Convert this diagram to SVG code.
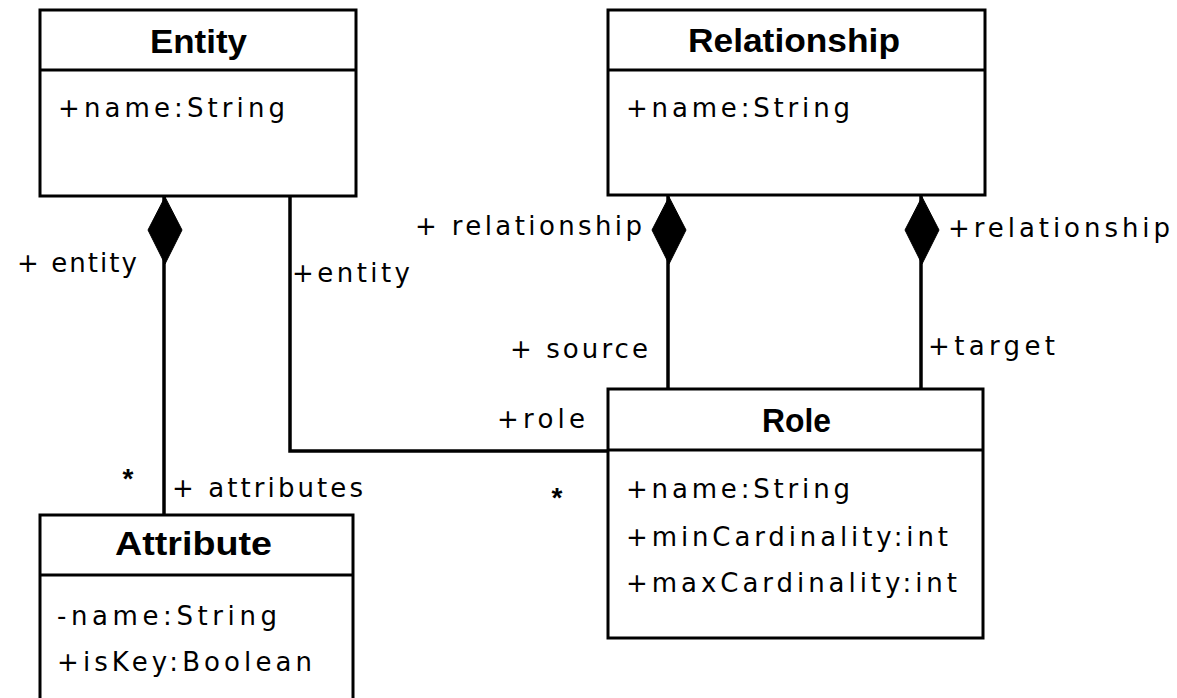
<svg xmlns="http://www.w3.org/2000/svg" width="1177" height="698" viewBox="0 0 1177 698">
  <style>
    .box { fill: #ffffff; stroke: #000000; stroke-width: 3; }
    .sep { stroke: #000000; stroke-width: 3; }
    .edge { fill: none; stroke: #000000; stroke-width: 3.5; }
    .diamond { fill: #000000; stroke: #000000; stroke-width: 1; }
    .title { font-family: "Liberation Sans", Arial, sans-serif; font-weight: bold; font-size: 33px; fill: #000000; }
    .attr { font-family: "DejaVu Sans", Verdana, sans-serif; font-size: 26px; fill: #000000; }
    .label { font-family: "DejaVu Sans", Verdana, sans-serif; font-size: 26px; fill: #000000; }
    .mult { font-family: "Liberation Sans", Arial, sans-serif; font-weight: bold; font-size: 28px; fill: #000000; }
  </style>
  <rect width="1177" height="698" fill="#ffffff"/>

  <!-- associations and compositions -->
  <g id="connectors">
    <!-- Entity composes Attribute -->
    <line class="edge" x1="164" y1="196" x2="164" y2="515"/>
    <polygon class="diamond" points="165,197 182,230 165,264 148,230"/>
    <!-- Entity to Role -->
    <polyline class="edge" points="290,196 290,451 608,451"/>
    <!-- Relationship composes Role (source) -->
    <line class="edge" x1="668" y1="195" x2="668" y2="389"/>
    <polygon class="diamond" points="669,197 686,230 669,264 652,230"/>
    <!-- Relationship composes Role (target) -->
    <line class="edge" x1="921" y1="195" x2="921" y2="389"/>
    <polygon class="diamond" points="922,197 939,230 922,264 905,230"/>

    <text class="label" x="17" y="272" textLength="120" lengthAdjust="spacing">+ entity</text>
    <text class="label" x="292" y="282" textLength="118" lengthAdjust="spacing">+entity</text>
    <text class="label" x="415" y="235" textLength="227" lengthAdjust="spacing">+ relationship</text>
    <text class="label" x="948" y="237" textLength="222" lengthAdjust="spacing">+relationship</text>
    <text class="label" x="510" y="358" textLength="138" lengthAdjust="spacing">+ source</text>
    <text class="label" x="928" y="355" textLength="127" lengthAdjust="spacing">+target</text>
    <text class="label" x="497" y="428" textLength="88" lengthAdjust="spacing">+role</text>
    <text class="label" x="172" y="497" textLength="191" lengthAdjust="spacing">+ attributes</text>
    <text class="mult" x="128" y="488" text-anchor="middle">*</text>
    <text class="mult" x="557" y="507" text-anchor="middle">*</text>
  </g>

  <g id="entity">
    <rect class="box" x="40" y="10" width="316" height="186"/>
    <line class="sep" x1="40" y1="70" x2="356" y2="70"/>
    <text class="title" x="150" y="53" textLength="97" lengthAdjust="spacingAndGlyphs">Entity</text>
    <text class="attr" x="58" y="117" textLength="227" lengthAdjust="spacing">+name:String</text>
  </g>

  <g id="relationship">
    <rect class="box" x="608" y="10" width="377" height="185"/>
    <line class="sep" x1="608" y1="70" x2="985" y2="70"/>
    <text class="title" x="688" y="52" textLength="212" lengthAdjust="spacingAndGlyphs">Relationship</text>
    <text class="attr" x="626" y="117" textLength="224" lengthAdjust="spacing">+name:String</text>
  </g>

  <g id="role">
    <rect class="box" x="608" y="389" width="375" height="249"/>
    <line class="sep" x1="608" y1="450" x2="983" y2="450"/>
    <text class="title" x="762" y="432" textLength="69" lengthAdjust="spacingAndGlyphs">Role</text>
    <text class="attr" x="626" y="498" textLength="224" lengthAdjust="spacing">+name:String</text>
    <text class="attr" x="626" y="546" textLength="322" lengthAdjust="spacing">+minCardinality:int</text>
    <text class="attr" x="626" y="592" textLength="331" lengthAdjust="spacing">+maxCardinality:int</text>
  </g>

  <g id="attribute">
    <rect class="box" x="40" y="515" width="313" height="200"/>
    <line class="sep" x1="40" y1="575" x2="353" y2="575"/>
    <text class="title" x="115" y="555" textLength="157" lengthAdjust="spacingAndGlyphs">Attribute</text>
    <text class="attr" x="57" y="625" textLength="220" lengthAdjust="spacing">-name:String</text>
    <text class="attr" x="57" y="671" textLength="255" lengthAdjust="spacing">+isKey:Boolean</text>
  </g>
</svg>
